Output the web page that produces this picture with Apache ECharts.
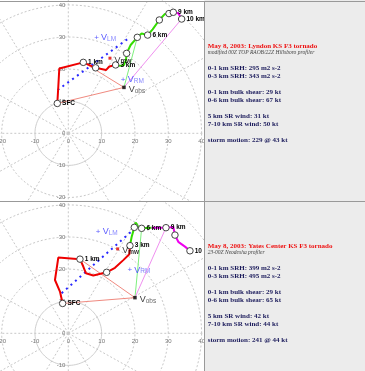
<!DOCTYPE html>
<html><head><meta charset="utf-8">
<script src="https://cdn.jsdelivr.net/npm/echarts@6/dist/echarts.min.js"></script>
<style>html,body{margin:0;padding:0;background:#fff}#c{width:365px;height:371px}</style>
</head><body><div id="c"></div>
<script>
// ---------- data ----------
const ringRadii = [10, 20, 30, 40, 50, 60];
const spokeAngles = [0, 30, 60, 90, 120, 150, 180, 210, 240, 270, 300, 330];
const xTickLabels = [-20, -10, 0, 10, 20, 30, 40];
const yTickLabelsTop = [-20, -10, 0, 10, 20, 30, 40];
const yTickLabelsBottom = [-10, 0, 10, 20, 30, 40];

// Lyndon (top)
const topLow = [[-3.3,9.3],[-3.0,14.5],[-2.7,20.2],[4.5,22.1],[8.2,20.4],[11.3,19.7],[12.3,20.8],[14.2,21.3]];
const topMid = [[14.2,21.3],[15.5,21.0],[16.7,21.3],[17.3,22.8],[17.5,24.9],[18.7,27.5],[20.7,29.9],[22.0,31.1],[23.8,30.6],[25.3,32.4],[27.3,35.3],[29.0,37.2],[30.2,37.3]];
const topHigh = [[30.2,37.3],[31.5,37.7],[33.0,37.4],[34.0,35.6]];
const topLevels = [[-3.3,9.3,'SFC'],[4.5,22.1,'1 km'],[8.2,20.4,''],[14.2,21.3,'3 km'],[17.5,24.9,''],[20.7,29.9,''],[23.8,30.6,'6 km'],[27.3,35.3,''],[30.2,37.3,''],[31.5,37.7,'9 km'],[34.0,35.6,'10 km']];
const topMeanWind = [12.5, 23.4];
const topObs = [16.7, 14.3];
const topLM = [8.5, 29.9];
const topRM = [16.5, 16.8];
const topShear = [[-3.2,13.5],[18.5,29.9]];
const topObsTargets = {sfc:[-3.3,9.3], km1:[4.5,22.1], mid:[20.7,29.9], high:[34.0,35.6]};

// Yates Center (bottom)
const botLow = [[-1.7,9.3],[-2.5,13.0],[-4.0,16.6],[-3.0,23.6],[3.5,23.1],[4.5,20.8],[5.3,18.7],[7.5,18.0],[11.5,19.0],[14.0,20.4],[16.5,22.8],[18.3,24.6],[18.5,27.3]];
const botMid = [[18.5,27.3],[19.0,30.0],[19.8,33.0],[20.2,34.5],[21.0,33.2],[22.0,32.7],[25.0,32.9]];
const botHigh = [[25.0,32.9],[29.3,32.9],[31.5,33.1],[32.0,30.6],[33.0,28.5],[35.0,27.0],[36.5,25.7]];
const botLevels = [[-1.7,9.3,'SFC'],[3.5,23.1,'1 km'],[11.5,19.0,''],[18.5,27.3,'3 km'],[19.8,33.0,''],[22.0,32.7,'6 km'],[29.3,32.9,'9 km'],[32.0,30.6,''],[36.5,25.7,'10 km']];
const botMeanWind = [14.8, 26.3];
const botObs = [20.0, 11.1];
const botLM = [9.0, 31.7];
const botRM = [18.5, 19.7];
const botShear = [[-2.0,12.5],[20.0,32.7]];
const botObsTargets = {sfc:[-1.7,9.3], km1:[3.5,23.1], mid:[22.0,32.7], high:[29.3,32.9]};

const topTitle = 'May 8, 2003: Lyndon KS F3 tornado';
const topSub = 'modified 00Z TOP RAOB/22Z Hillsboro profiler';
const topStats = ['0-1 km SRH: 295 m2 s-2','0-3 km SRH: 343 m2 s-2','0-1 km bulk shear: 29 kt','0-6 km bulk shear: 67 kt','5 km SR wind: 31 kt','7-10 km SR wind: 50 kt','storm motion: 229 @ 43 kt'];
const botTitle = 'May 8, 2003: Yates Center KS F3 tornado';
const botSub = '23-00Z Neodesha profiler';
const botStats = ['0-1 km SRH: 399 m2 s-2','0-3 km SRH: 495 m2 s-2','0-1 km bulk shear: 29 kt','0-6 km bulk shear: 65 kt','5 km SR wind: 42 kt','7-10 km SR wind: 44 kt','storm motion: 241 @ 44 kt'];

// ---------- layout ----------
const SX = 10/3, SY = 3.21;
const PW = 204;
const panels = [
  {top:0, height:201, oy:133.3},
  {top:201, height:170, oy:333.3}
];
const OX = 68.3;

const chart = echarts.init(document.getElementById('c'), null, {renderer:'canvas'});
const grids = [], xAxes = [], yAxes = [], series = [];
const SANS = '"Liberation Sans", Arial, sans-serif';

panels.forEach((p, i) => {
  grids.push({left:0, top:p.top, width:PW, height:p.height, containLabel:false, show:false});
  const xmin = -OX / SX;
  const ymax = (p.oy - p.top) / SY;
  xAxes.push({type:'value', gridIndex:i, min:xmin, max:xmin + PW/SX, show:false, splitLine:{show:false}});
  yAxes.push({type:'value', gridIndex:i, min:ymax - p.height/SY, max:ymax, show:false, splitLine:{show:false}});
});

function subLabel(color, subColor, subText, prefix, subWeight) {
  return {
    formatter: (prefix ? '{p|+ }' : '') + '{v|V}{s|' + subText + '}',
    rich: {
      p: {fontSize:8, color:color, fontFamily:SANS},
      v: {fontSize:9, color:color, fontFamily:SANS},
      s: {fontSize:6.5, color:subColor, fontWeight:subWeight || 'normal', fontFamily:SANS, padding:[3,0,0,0]}
    }
  };
}

function addPanel(i, d) {
  const base = {xAxisIndex:i, yAxisIndex:i};
  // rings
  series.push(Object.assign({type:'custom', clip:true, silent:true, z:1, data:ringRadii,
    renderItem(params, api){
      const r = api.value(0); const pts = [];
      for (let k=0;k<=120;k++){const a=k/120*Math.PI*2; pts.push(api.coord([r*Math.cos(a), r*Math.sin(a)]));}
      return {type:'polyline', shape:{points:pts}, style:{fill:null, stroke: r===10 ? '#cfcfcf' : '#c8c8c8', lineWidth:1, lineDash: r===10 ? null : [2,2]}};
    }}, base));
  // spokes
  series.push(Object.assign({type:'custom', clip:true, silent:true, z:1, data:spokeAngles,
    renderItem(params, api){
      const a = api.value(0)*Math.PI/180;
      const c = api.coord([0,0]); const e = api.coord([70*Math.cos(a), 70*Math.sin(a)]);
      return {type:'line', shape:{x1:c[0],y1:c[1],x2:e[0],y2:e[1]}, style:{stroke:'#c8c8c8', lineWidth:1, lineDash:[2,2]}};
    }}, base));
  // tick labels x
  series.push(Object.assign({type:'custom', clip:false, silent:true, z:2, data:xTickLabels,
    renderItem(params, api){
      const v = api.value(0); const c = api.coord([v,0]);
      return {type:'text', x:c[0], y:c[1]+8, style:{text:String(v), fill:'#777', font:'6px '+SANS, align:'center', verticalAlign:'middle'}};
    }}, base));
  // tick labels y
  series.push(Object.assign({type:'custom', clip:false, silent:true, z:2, data:d.yTicks,
    renderItem(params, api){
      const v = api.value(0); const c = api.coord([0,v]);
      return {type:'text', x:c[0]-3, y:c[1], style:{text:String(v), fill:'#777', font:'6px '+SANS, align:'right', verticalAlign:'middle'}};
    }}, base));
  // thin storm-relative lines
  const thin = (to, color) => series.push(Object.assign({type:'line', data:[d.obs, to], symbol:'none', z:3, silent:true,
    lineStyle:{color:color, width:1}}, base));
  thin(d.targets.sfc, '#f08a80');
  thin(d.targets.km1, '#f08a80');
  thin(d.targets.mid, '#7ef07e');
  thin(d.targets.high, '#f090f0');
  // shear dotted
  series.push(Object.assign({type:'line', data:d.shear, symbol:'none', z:4, silent:true,
    lineStyle:{color:'#2828ff', width:2, type:[2,4], cap:'butt'}}, base));
  // hodograph
  series.push(Object.assign({type:'line', data:d.low, symbol:'none', z:5, silent:true, lineStyle:{color:'#ee0000', width:2}}, base));
  series.push(Object.assign({type:'line', data:d.mid, symbol:'none', z:5, silent:true, lineStyle:{color:'#33dd00', width:2}}, base));
  series.push(Object.assign({type:'line', data:d.high, symbol:'none', z:5, silent:true, lineStyle:{color:'#ee00ee', width:2}}, base));
  // level circles
  series.push(Object.assign({type:'scatter', data:d.levels, symbol:'circle', symbolSize:6.5, z:6, silent:true,
    itemStyle:{color:'#ffffff', borderColor:'#444', borderWidth:1, opacity:1},
    label:{show:true, position:'right', distance:1, formatter:p=>p.data[2], color:'#000', fontSize:6.5, fontWeight:'bold', fontFamily:SANS}}, base));
  // mean wind
  series.push(Object.assign({type:'scatter', data:[d.mw], symbol:'rect', symbolSize:3, z:7, silent:true,
    itemStyle:{color:'#dd0000'},
    label:Object.assign({show:true, position:'right', distance:3, offset:[0,2]}, subLabel('#000', '#000', 'mw', false, 'bold'))}, base));
  // observed motion
  series.push(Object.assign({type:'scatter', data:[d.obs], symbol:'rect', symbolSize:3.5, z:7, silent:true,
    itemStyle:{color:'#000'},
    label:Object.assign({show:true, position:'right', distance:3, offset:[0,2]}, subLabel('#000', '#444', 'obs', false))}, base));
  // Bunkers LM / RM
  const bunk = (pt, sub) => series.push(Object.assign({type:'scatter', data:[pt], symbol:'circle', symbolSize:1, z:7, silent:true,
    itemStyle:{color:'rgba(0,0,0,0)'},
    label:Object.assign({show:true, position:'right', distance:0, offset:[-3,0]}, subLabel('#3030ff', '#6a6aff', sub, true))}, base));
  bunk(d.lm, 'LM');
  bunk(d.rm, 'RM');
}

addPanel(0, {yTicks:yTickLabelsTop, low:topLow, mid:topMid, high:topHigh, levels:topLevels, mw:topMeanWind, obs:topObs, lm:topLM, rm:topRM, shear:topShear, targets:topObsTargets});
addPanel(1, {yTicks:yTickLabelsBottom, low:botLow, mid:botMid, high:botHigh, levels:botLevels, mw:botMeanWind, obs:botObs, lm:botLM, rm:botRM, shear:botShear, targets:botObsTargets});

// ---------- text panel ----------
const SERIF = '"Liberation Serif", "Times New Roman", serif';
const graphics = [
  {type:'rect', shape:{x:204.5, y:0, width:161, height:371}, style:{fill:'#ececec'}, z:100, silent:true},
  {type:'line', shape:{x1:0, y1:1.5, x2:365, y2:1.5}, style:{stroke:'#999', lineWidth:1}, z:101, silent:true},
  {type:'line', shape:{x1:0, y1:201.5, x2:365, y2:201.5}, style:{stroke:'#999', lineWidth:1}, z:101, silent:true},
  {type:'line', shape:{x1:204.5, y1:1, x2:204.5, y2:371}, style:{stroke:'#999', lineWidth:1}, z:101, silent:true}
];
const statOffsets = [22.6, 30.6, 46.6, 54.3, 70.3, 78.3, 94.8];
function addText(y0, title, sub, stats){
  graphics.push({type:'text', x:207.7, y:y0, z:102, silent:true, style:{text:title, fill:'#ee1111', font:'bold 7px '+SERIF, verticalAlign:'middle', align:'left'}});
  graphics.push({type:'text', x:207.7, y:y0+7.3, z:102, silent:true, style:{text:sub, fill:'#444', font:'italic 5.5px '+SERIF, verticalAlign:'middle', align:'left'}});
  stats.forEach((s, k) => graphics.push({type:'text', x:207.7, y:y0+statOffsets[k], z:102, silent:true, style:{text:s, fill:'#1c1c5c', font:'bold 7px '+SERIF, verticalAlign:'middle', align:'left'}}));
}
addText(45.7, topTitle, topSub, topStats);
addText(245.7, botTitle, botSub, botStats);

chart.setOption({
  animation:false,
  backgroundColor:'#ffffff',
  grid:grids, xAxis:xAxes, yAxis:yAxes, series:series,
  graphic:{elements:graphics}
});
</script></body></html>
